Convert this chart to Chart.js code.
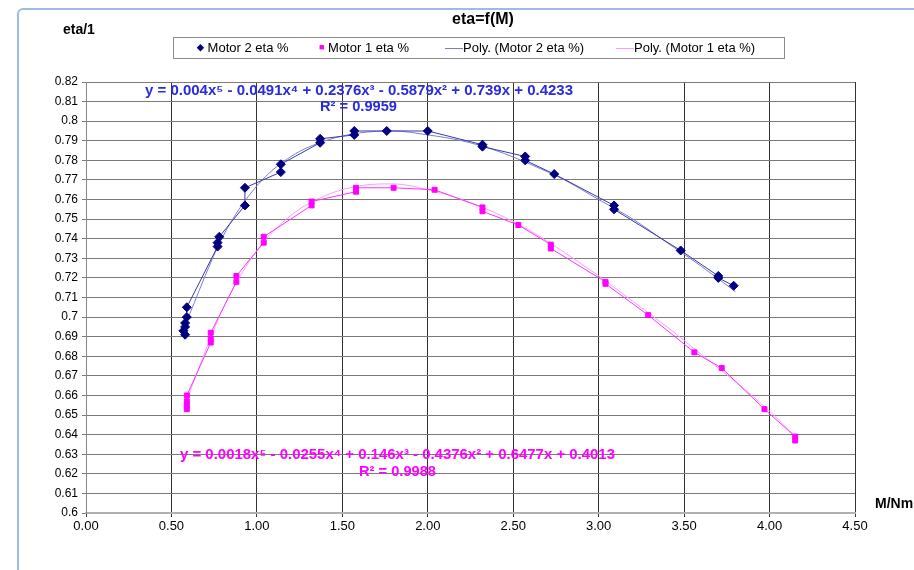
<!DOCTYPE html>
<html>
<head>
<meta charset="utf-8">
<script src="https://cdn.jsdelivr.net/npm/chart.js@4.4.1/dist/chart.umd.min.js"></script>
<style>
  body { margin: 0; background: #fff; font-family: "Liberation Sans", Arial, sans-serif; }
  #wrap { position: relative; width: 914px; height: 570px; overflow: hidden; }
  #frame { position: absolute; left: 17px; top: 8px; width: 1000px; height: 1000px;
           border: 2px solid #9cbbe2; border-radius: 6px; box-sizing: border-box; }
  canvas { position: absolute; left: 0; top: 0; }
  .lbl { position: absolute; font-weight: bold; color: #000; white-space: nowrap; }
  #legend { position: absolute; left: 173px; top: 37px; width: 612px; height: 22px;
            border: 1px solid #8c8c8c; box-sizing: border-box; background: #fff; font-size: 13px; }
  #legend span { position: absolute; top: 2px; white-space: nowrap; }
  .ln { display: inline-block; width: 18px; height: 0; border-top: 1px solid; vertical-align: middle; }
</style>
</head>
<body>
<div id="wrap">
  <div id="frame"></div>
  <canvas id="myChart" width="914" height="570"></canvas>
  <div class="lbl" style="left:0;width:966px;text-align:center;top:10px;font-size:16px;">eta=f(M)</div>
  <div class="lbl" style="left:63px;top:21px;font-size:14px;">eta/1</div>
  <div class="lbl" style="left:875px;top:495px;font-size:14px;">M/Nm</div>
  <div id="legend">
    <span style="left:23px;"><b style="color:#000080;font-size:9px;vertical-align:2px;">&#9670;</b> Motor 2 eta %</span>
    <span style="left:145px;"><b style="color:#ff00ff;font-size:9px;vertical-align:2px;">&#9632;</b> Motor 1 eta %</span>
    <span style="left:271px;"><i class="ln" style="border-color:#7b7bd6;"></i>Poly. (Motor 2 eta %)</span>
    <span style="left:442px;"><i class="ln" style="border-color:#ff99ff;"></i>Poly. (Motor 1 eta %)</span>
  </div>
</div>
<script>
// Eixos
const xTicks = [0, 0.5, 1, 1.5, 2, 2.5, 3, 3.5, 4, 4.5];
const yMin = 0.6;
const yMax = 0.82;

// Motor 2 (medido)
const motor2X = [0.58, 0.57, 0.58, 0.58, 0.59, 0.59, 0.77, 0.77, 0.78, 0.93, 0.93, 1.14, 1.14, 1.37, 1.37,
                 1.57, 1.57, 1.76, 2.00, 2.32, 2.32, 2.57, 2.57, 2.74, 3.09, 3.09, 3.48, 3.70, 3.70, 3.79];
const motor2Y = [0.691, 0.693, 0.695, 0.697, 0.700, 0.705, 0.736, 0.738, 0.741, 0.757, 0.766, 0.774, 0.778, 0.789, 0.791,
                 0.793, 0.795, 0.795, 0.795, 0.788, 0.787, 0.782, 0.780, 0.773, 0.757, 0.755, 0.734, 0.721, 0.720, 0.716];

// Motor 1 (medido)
const motor1X = [0.59, 0.59, 0.59, 0.59, 0.73, 0.73, 0.73, 0.88, 0.88, 1.04, 1.04, 1.32, 1.32, 1.58, 1.58,
                 1.80, 2.04, 2.32, 2.32, 2.53, 2.72, 2.72, 3.04, 3.04, 3.29, 3.56, 3.72, 3.97, 4.15, 4.15];
const motor1Y = [0.653, 0.655, 0.657, 0.660, 0.687, 0.689, 0.692, 0.718, 0.721, 0.738, 0.741, 0.757, 0.759, 0.764, 0.766,
                 0.766, 0.765, 0.756, 0.754, 0.747, 0.737, 0.735, 0.718, 0.717, 0.701, 0.682, 0.674, 0.653, 0.639, 0.637];

// Linhas de tendência
const trend2X = [0.58, 0.8, 1.0, 1.2, 1.4, 1.6, 1.8, 2.0, 2.2, 2.4, 2.6, 2.8, 3.0, 3.2, 3.4, 3.6, 3.8];
const trend2Y = [0.696, 0.741, 0.767, 0.782, 0.790, 0.794, 0.795, 0.793, 0.790, 0.785, 0.778, 0.770, 0.760, 0.750, 0.738, 0.726, 0.713];
const trend1X = [0.59, 0.8, 1.0, 1.2, 1.4, 1.6, 1.8, 2.0, 2.2, 2.4, 2.6, 2.8, 3.0, 3.2, 3.4, 3.6, 3.8, 4.0, 4.15];
const trend1Y = [0.658, 0.704, 0.734, 0.752, 0.762, 0.767, 0.768, 0.765, 0.760, 0.753, 0.744, 0.733, 0.721, 0.708, 0.695, 0.681, 0.667, 0.652, 0.639];

const eq2 = ["y = 0.004x\u2075 - 0.0491x\u2074 + 0.2376x\u00b3 - 0.5879x\u00b2 + 0.739x + 0.4233", "R\u00b2 = 0.9959"];
const eq1 = ["y = 0.0018x\u2075 - 0.0255x\u2074 + 0.146x\u00b3 - 0.4376x\u00b2 + 0.6477x + 0.4013", "R\u00b2 = 0.9988"];

const pts = (xs, ys) => xs.map((x, i) => ({ x: x, y: ys[i] }));

// Texto esticado até a largura desejada
function fitText(c, text, x, y, w) {
    const m = c.measureText(text).width;
    c.save();
    c.translate(x, y);
    c.scale(w / m, 1);
    c.fillText(text, 0, 0);
    c.restore();
}

// Equações das tendências desenhadas no canvas
const equationPlugin = {
    id: 'equations',
    afterDatasetsDraw(chart) {
        const c = chart.ctx;
        c.save();
        c.font = 'bold 14px "Liberation Sans", Arial, sans-serif';
        c.textBaseline = 'middle';
        c.textAlign = 'left';
        c.fillStyle = '#2a2ae0';
        fitText(c, eq2[0], 145, 91, 428);
        fitText(c, eq2[1], 320, 107, 77);
        c.fillStyle = '#ff00ff';
        fitText(c, eq1[0], 180, 455, 435);
        fitText(c, eq1[1], 359, 472, 77);
        c.restore();
    }
};

const ctx = document.getElementById('myChart').getContext('2d');
const myChart = new Chart(ctx, {
    type: 'scatter',
    data: {
        datasets: [
            {
                label: 'Motor 2 eta %',
                data: pts(motor2X, motor2Y),
                showLine: true,
                borderColor: '#3a3aa8',
                borderWidth: 1,
                pointStyle: 'rectRot',
                pointRadius: 4.5,
                pointBackgroundColor: '#000080',
                pointBorderColor: '#000080',
                order: 1
            },
            {
                label: 'Motor 1 eta %',
                data: pts(motor1X, motor1Y),
                showLine: true,
                borderColor: '#ff33ff',
                borderWidth: 1,
                pointStyle: 'rect',
                pointRadius: 3.5,
                pointBackgroundColor: '#ff00ff',
                pointBorderColor: '#ff00ff',
                order: 1
            },
            {
                label: 'Poly. (Motor 2 eta %)',
                data: pts(trend2X, trend2Y),
                showLine: true,
                borderColor: '#7b7bd6',
                borderWidth: 1,
                pointRadius: 0,
                cubicInterpolationMode: 'monotone',
                order: 2
            },
            {
                label: 'Poly. (Motor 1 eta %)',
                data: pts(trend1X, trend1Y),
                showLine: true,
                borderColor: '#ff99ff',
                borderWidth: 1,
                pointRadius: 0,
                cubicInterpolationMode: 'monotone',
                order: 2
            }
        ]
    },
    options: {
        responsive: false,
        animation: false,
        devicePixelRatio: 1,
        layout: { padding: { left: 0, right: 59, top: 82, bottom: 27 } },
        plugins: { legend: { display: false }, title: { display: false }, tooltip: { enabled: false } },
        scales: {
            x: {
                type: 'linear',
                min: 0,
                max: 4.5,
                afterBuildTicks: (scale) => { scale.ticks = xTicks.map(v => ({ value: v })); },
                afterFit: (scale) => { scale.height = 30; },
                ticks: {
                    color: '#000',
                    font: { family: '"Liberation Sans", Arial, sans-serif', size: 13 },
                    padding: 2,
                    maxRotation: 0,
                    callback: (v) => Number(v).toFixed(2)
                },
                grid: { color: '#333', lineWidth: 1, tickLength: 4, drawOnChartArea: true },
                border: { color: '#b0b0b0', width: 2 }
            },
            y: {
                min: yMin,
                max: yMax,
                afterFit: (scale) => { scale.width = 86; },
                ticks: {
                    stepSize: 0.01,
                    color: '#000',
                    font: { family: '"Liberation Sans", Arial, sans-serif', size: 12 },
                    padding: 4,
                    callback: (v) => String(Number(Number(v).toFixed(2)))
                },
                grid: { color: '#7a7a7a', lineWidth: 1, tickLength: 4 },
                border: { color: '#8a8a8a', width: 1 }
            }
        }
    },
    plugins: [equationPlugin]
});
</script>
</body>
</html>
